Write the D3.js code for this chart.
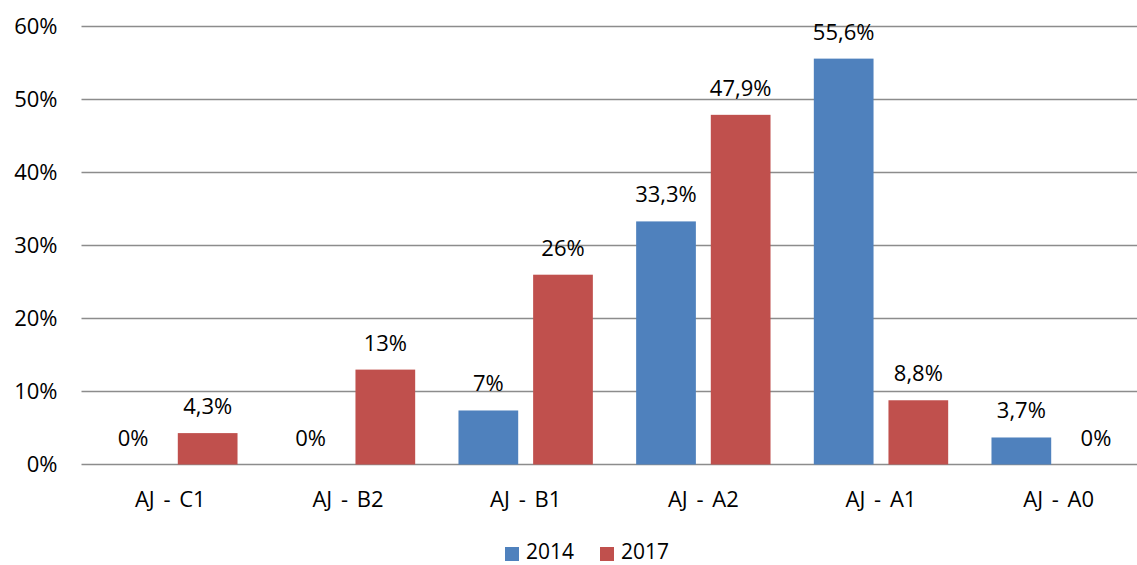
<!DOCTYPE html>
<html>
<head>
<meta charset="utf-8">
<script src="https://cdn.jsdelivr.net/npm/d3@7"></script>
<style>
  body { margin: 0; background: #fff; }
  text { font-family: "Open Sans", sans-serif; fill: #000; }
</style>
</head>
<body>
<svg width="1137" height="565"></svg>
<script>
// categories and series
const categories = ["AJ - C1", "AJ - B2", "AJ - B1", "AJ - A2", "AJ - A1", "AJ - A0"];
const seriesNames = ["2014", "2017"];
const values2014 = [0, 0, 7.4, 33.3, 55.6, 3.7];
const values2017 = [4.3, 13, 26, 47.9, 8.8, 0];
const labels2014 = ["0%", "0%", "7%", "33,3%", "55,6%", "3,7%"];
const labels2017 = ["4,3%", "13%", "26%", "47,9%", "8,8%", "0%"];
const yTicks = [0, 10, 20, 30, 40, 50, 60];

const colors = ["#4f81bd", "#c0504d"];
const fontSize = 22;

const svg = d3.select("svg");
const margin = { top: 26.5, left: 81.5 };
const plotW = 1066, plotH = 438;

const g = svg.append("g")
    .attr("transform", "translate(" + margin.left + "," + margin.top + ")");

const x = d3.scaleBand().domain(categories).range([0, plotW]).paddingInner(0).paddingOuter(0);
const xs = d3.scaleBand().domain(seriesNames).range([0, x.bandwidth()]).paddingInner(0.2).paddingOuter(0.29);
const y = d3.scaleLinear().domain([0, 60]).range([plotH, 0]);

// gridlines
g.selectAll(".grid")
    .data(yTicks)
    .enter().append("line")
    .attr("x1", 0).attr("x2", plotW)
    .attr("y1", d => y(d)).attr("y2", d => y(d))
    .attr("stroke", "#8c8c8c")
    .attr("stroke-width", 1.4);

// y tick labels
g.selectAll(".ytick")
    .data(yTicks)
    .enter().append("text")
    .attr("x", -24)
    .attr("y", d => y(d))
    .attr("dy", "0.35em")
    .attr("text-anchor", "end")
    .style("font-size", fontSize + "px")
    .text(d => d + "%");

// bars
const series = [
    { name: "2014", values: values2014, labels: labels2014 },
    { name: "2017", values: values2017, labels: labels2017 }
];

series.forEach((s, i) => {
    const cells = categories.map((c, j) => ({ cat: c, v: s.values[j], label: s.labels[j] }));
    g.selectAll(".bar" + i)
        .data(cells)
        .enter().append("rect")
        .attr("x", d => x(d.cat) + xs(s.name))
        .attr("y", d => y(d.v))
        .attr("width", xs.bandwidth())
        .attr("height", d => plotH - y(d.v))
        .attr("fill", colors[i]);

    g.selectAll(".lab" + i)
        .data(cells)
        .enter().append("text")
        .attr("x", d => x(d.cat) + xs(s.name) + xs.bandwidth() / 2)
        .attr("y", d => y(d.v) - 19)
        .attr("text-anchor", "middle")
        .style("font-size", fontSize + "px")
        .text(d => d.label);
});

// category labels
g.selectAll(".xlab")
    .data(categories)
    .enter().append("text")
    .attr("x", d => x(d) + x.bandwidth() / 2)
    .attr("y", plotH + 35)
    .attr("dy", "0.35em")
    .attr("text-anchor", "middle")
    .style("font-size", fontSize + "px")
    .style("word-spacing", "3px")
    .text(d => d);

// legend
const legend = svg.append("g").attr("transform", "translate(505,547)");
const legX = [0, 95];
seriesNames.forEach((n, i) => {
    legend.append("rect")
        .attr("x", legX[i]).attr("y", 0)
        .attr("width", 14).attr("height", 14)
        .attr("fill", colors[i]);
    legend.append("text")
        .attr("x", legX[i] + 21).attr("y", 12)
        .style("font-size", "21px")
        .text(n);
});
</script>
</body>
</html>
